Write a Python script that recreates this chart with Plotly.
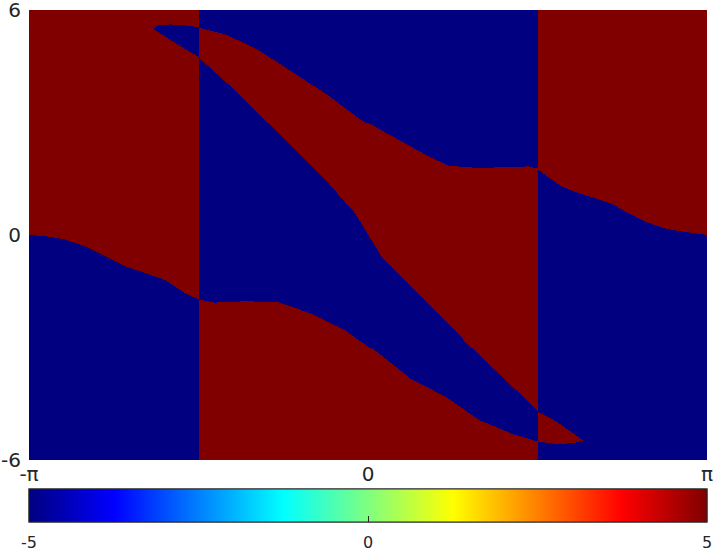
import numpy as np
import plotly.graph_objects as go

PI = np.pi
HALF = PI / 2

# Boundary curves (x in [-pi, pi], y in [-6, 6])
# Left section (-pi .. -pi/2)
L1_x = [-1.991, -1.976, -1.945, -1.836, -1.651, -HALF]      # tongue upper edge
L1_y = [5.48, 5.555, 5.592, 5.619, 5.581, 5.539]
L2_x = [-1.991, -1.960, -1.929, -1.806, -1.682, -HALF]      # tongue lower edge
L2_y = [5.48, 5.44, 5.379, 5.155, 4.933, 4.755]
L3_x = [-PI, -2.996, -2.810, -2.625, -2.439, -2.254, -2.068, -1.883, -1.697, -HALF]
L3_y = [0.0, -0.03, -0.115, -0.293, -0.56, -0.827, -1.005, -1.2, -1.555, -1.707]

# Middle section (-pi/2 .. pi/2)
M1_x = [-HALF, -1.296, -0.986, -0.677, -0.368, -0.058, 0.251, 0.560, 0.745, 1.021, 1.484, HALF]
M1_y = [5.539, 5.333, 4.888, 4.312, 3.733, 3.067, 2.579, 2.088, 1.84, 1.779, 1.821, 1.76]
M2_x = [-HALF, -1.296, -0.986, -0.677, -0.368, -0.120, 0.003, 0.127, 0.406, 0.714, 1.023, 1.333, HALF]
M2_y = [4.755, 4.045, 3.155, 2.267, 1.379, 0.579, 0.0, -0.579, -1.379, -2.267, -3.2, -4.045, -4.712]
M3_x = [-HALF, -1.419, -1.141, -0.832, -0.522, -0.213, 0.096, 0.406, 0.714, 1.023, 1.333, HALF]
M3_y = [-1.707, -1.795, -1.76, -1.779, -2.088, -2.533, -3.155, -3.867, -4.312, -4.933, -5.307, -5.51]

# Right section (pi/2 .. pi)
R1_x = [HALF, 1.644, 1.798, 1.953, 2.108, 2.262, 2.417, 2.572, 2.726, 2.881, PI]
R1_y = [1.76, 1.6, 1.289, 1.111, 0.979, 0.827, 0.578, 0.355, 0.195, 0.107, 0.0]
R2_x = [HALF, 1.751, 1.905, 1.997]                            # tongue upper edge
R2_y = [-4.712, -4.979, -5.288, -5.48]
R3_x = [HALF, 1.751, 1.905, 1.997]                            # tongue lower edge
R3_y = [-5.51, -5.573, -5.555, -5.48]

SECTIONS = [
    (-PI, -HALF, 5, [(L1_x, L1_y), (L2_x, L2_y), (L3_x, L3_y)]),
    (-HALF, HALF, -5, [(M1_x, M1_y), (M2_x, M2_y), (M3_x, M3_y)]),
    (HALF, PI, 5, [(R1_x, R1_y), (R2_x, R2_y), (R3_x, R3_y)]),
]

x_ticks = [-PI, 0, PI]
x_ticktext = ['-π', '0', 'π']
y_ticks = [-6, 0, 6]
y_ticktext = ['-6', '0', '6']
c_ticks = [-5, 0, 5]
c_ticktext = ['-5', '0', '5']

NX, NY = 680, 452
xs = -PI + (np.arange(NX) + 0.5) * (2 * PI / NX)
ys = -6 + (np.arange(NY) + 0.5) * (12 / NY)
Z = np.zeros((NY, NX))

for lo, hi, base, curves in SECTIONS:
    colmask = (xs >= lo) & (xs < hi) if hi < PI else (xs >= lo)
    count = np.zeros((NY, NX), dtype=int)
    for cx, cy in curves:
        cx = np.asarray(cx); cy = np.asarray(cy)
        inside = (xs >= cx.min()) & (xs <= cx.max())
        yc = np.interp(xs, cx, cy)
        above = (yc[None, :] > ys[:, None]) & inside[None, :]
        count += above.astype(int)
    val = base * np.where(count % 2 == 0, 1, -1)
    Z[:, colmask] = val[:, colmask]

jet = [[0.0, 'rgb(0,0,128)'], [0.125, 'rgb(0,0,255)'], [0.375, 'rgb(0,255,255)'],
       [0.625, 'rgb(255,255,0)'], [0.875, 'rgb(255,0,0)'], [1.0, 'rgb(128,0,0)']]

FONT = 'DejaVu Sans'
TXT = '#262626'
CB_Y = -29 / 450

cb_common = dict(orientation='h', x=0.5, xanchor='center', y=CB_Y, yanchor='top',
                 len=1, lenmode='fraction', thickness=33, xpad=0, ypad=0,
                 outlinewidth=1, outlinecolor=TXT, tickvals=c_ticks, ticktext=c_ticktext,
                 ticklabeloverflow='allow')

fig = go.Figure()
# heatmap with colorbar labels (invisible long ticks push the labels down)
fig.add_trace(go.Heatmap(
    x=xs, y=ys, z=Z, zmin=-5, zmax=5, colorscale=jet, hoverinfo='skip',
    colorbar=dict(**cb_common, ticks='outside', ticklen=7, tickcolor='rgba(0,0,0,0)',
                  tickfont=dict(family=FONT, size=16, color=TXT)),
))
# overlay colorbar carrying the small inside tick marks
fig.add_trace(go.Scatter(
    x=[None], y=[None], mode='markers', showlegend=False, hoverinfo='skip',
    marker=dict(color=[0], cmin=-5, cmax=5, colorscale=jet, showscale=True,
                colorbar=dict(**cb_common, ticks='inside', ticklen=6, tickwidth=1,
                              tickcolor=TXT, showticklabels=False)),
))

fig.update_layout(
    width=715, height=552, template='none',
    margin=dict(l=29, r=8, t=10, b=92, autoexpand=False),
    paper_bgcolor='white', plot_bgcolor='white',
    font=dict(family=FONT, color=TXT),
    xaxis=dict(range=[-PI, PI], tickvals=x_ticks, ticktext=x_ticktext, ticks='',
               showgrid=False, zeroline=False, showline=False, automargin=False,
               ticklabeloverflow='allow',
               tickfont=dict(family=FONT, size=20, color=TXT)),
    yaxis=dict(range=[-6, 6], tickvals=y_ticks, ticktext=y_ticktext, ticks='',
               showgrid=False, zeroline=False, showline=False, automargin=False,
               ticklabeloverflow='allow', ticklabelstandoff=7,
               tickfont=dict(family=FONT, size=20, color=TXT)),
)

# remove the default 8 px page margin so the figure fills the window exactly
fig.write_html('out.html', config={'displayModeBar': False},
               post_script="document.body.style.margin='0';document.body.style.overflow='hidden';")
